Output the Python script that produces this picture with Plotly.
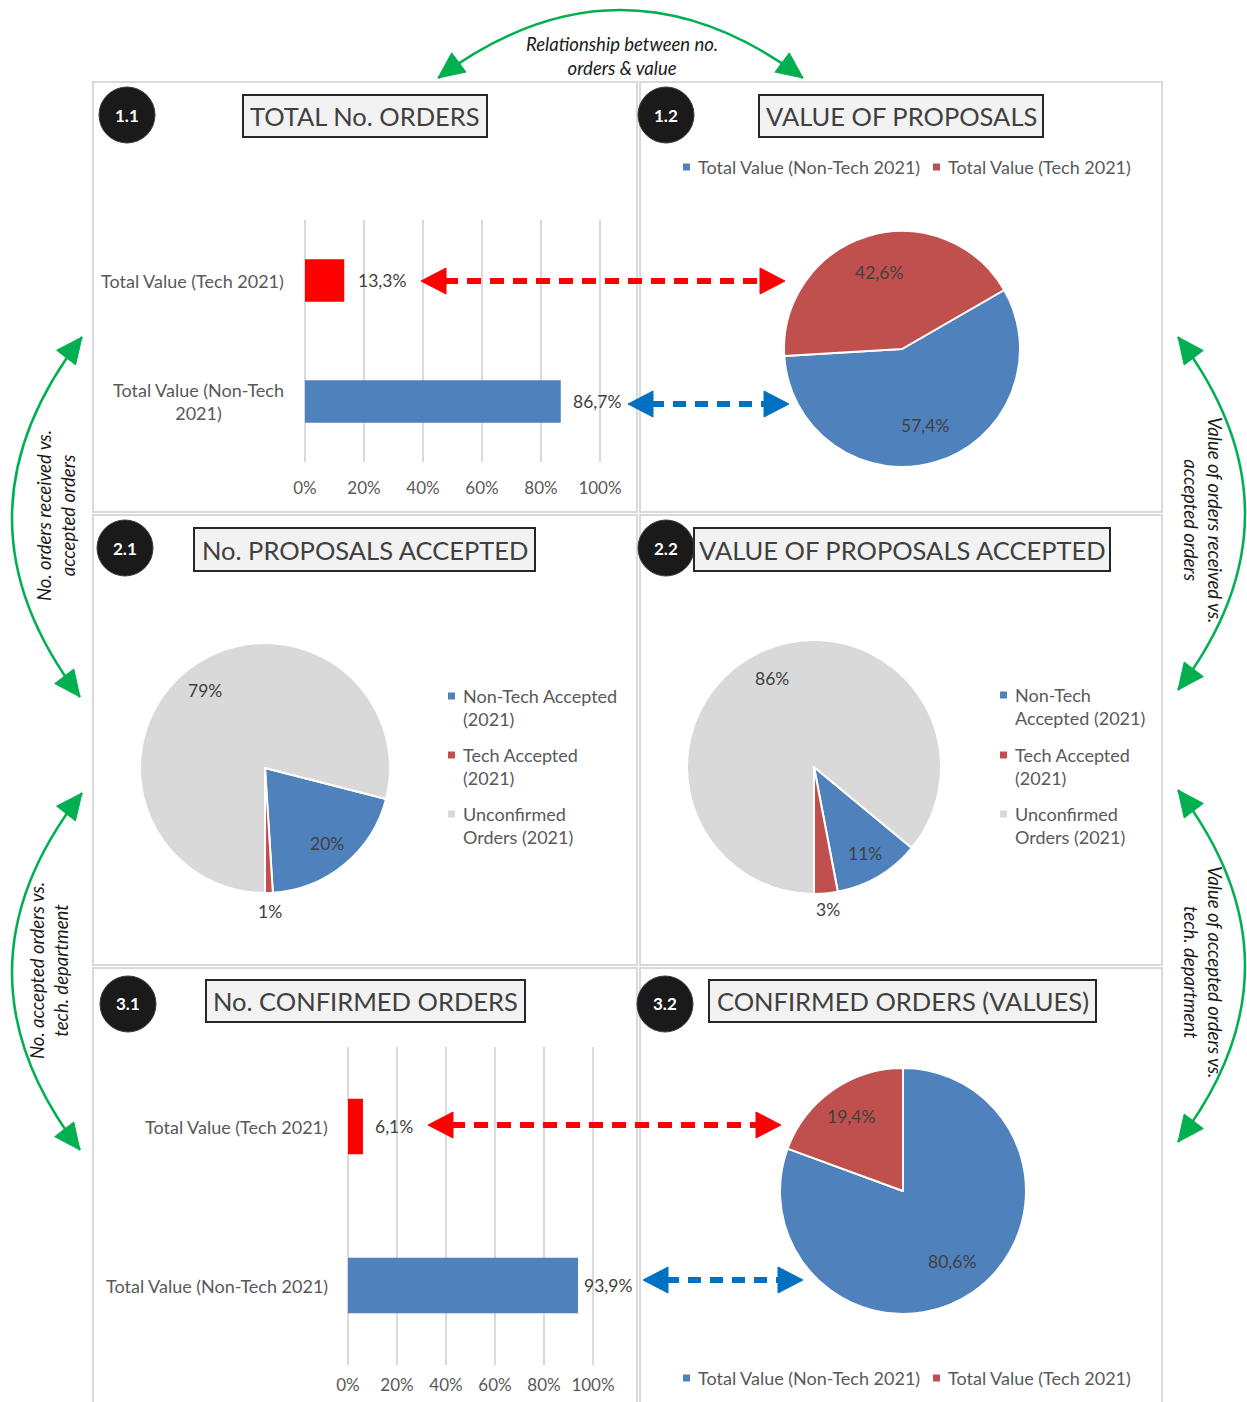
import numpy as np
import plotly.graph_objects as go

W, H = 1247, 1402
FONT = "Lato"

# ---------------- data ----------------
bar_categories = ["Total Value (Non-Tech 2021)", "Total Value (Tech 2021)"]
orders_total_pct = [86.7, 13.3]          # 1.1 total no. of orders
orders_confirmed_pct = [93.9, 6.1]       # 3.1 no. of confirmed orders
pct_ticks = [0, 20, 40, 60, 80, 100]

value_labels = ["Total Value (Non-Tech 2021)", "Total Value (Tech 2021)"]
proposal_value_pct = [57.4, 42.6]        # 1.2 value of proposals
confirmed_value_pct = [80.6, 19.4]       # 3.2 confirmed orders (values)

accepted_labels = ["Non-Tech Accepted (2021)", "Tech Accepted (2021)", "Unconfirmed Orders (2021)"]
accepted_count_pct = [20, 1, 79]         # 2.1 no. proposals accepted
accepted_value_pct = [11, 3, 86]         # 2.2 value of proposals accepted

BLUE = "#4f81bd"
RED = "#c0504d"
BAR_RED = "#ff0000"
GREY = "#d9d9d9"
GREEN = "#00b050"
ARROW_BLUE = "#0070c0"
TXT = "#595959"
DARK = "#404040"


def X(px):
    return px / W


def Y(py):
    return 1 - py / H


def pct1(v):
    return f"{v:.1f}%".replace(".", ",")


def pct0(v):
    return f"{v:.0f}%"


shapes = []
annotations = []

# ---------------- panel frames ----------------
for x0, y0, x1, y1 in [(93, 82, 637, 512), (640, 82, 1162, 512),
                       (93, 515, 637, 965), (640, 515, 1162, 965),
                       (93, 968, 637, 1410), (640, 968, 1162, 1410)]:
    shapes.append(dict(type="rect", xref="paper", yref="paper", layer="below",
                       x0=X(x0), x1=X(x1), y0=Y(y1), y1=Y(y0),
                       line=dict(color=GREY, width=2), fillcolor="rgba(0,0,0,0)"))

fig = go.Figure()

# ---------------- 1.1 and 3.1 bar charts ----------------
PAD = 0.5  # small range padding so the 0% and 100% gridlines are drawn
bar_panels = [
    dict(values=orders_total_pct, xa="x", ya="y", xd=(305, 600), yd=(220, 462),
         label_x=286, shifts=[10, 12], standoff=14,
         cat_text=["Total Value (Non-Tech<br>2021)", "Total Value (Tech 2021)"]),
    dict(values=orders_confirmed_pct, xa="x2", ya="y2", xd=(348, 593), yd=(1047, 1365),
         label_x=330, shifts=[4, 10], standoff=8,
         cat_text=["Total Value (Non-Tech 2021)", "Total Value (Tech 2021)"]),
]
axes = {}
for i, p in enumerate(bar_panels):
    fig.add_trace(go.Bar(y=bar_categories, x=p["values"], orientation="h",
                         marker=dict(color=[BLUE, BAR_RED], line=dict(width=0)),
                         width=0.35, xaxis=p["xa"], yaxis=p["ya"],
                         showlegend=False, hoverinfo="skip"))
    sfx = "" if i == 0 else str(i + 1)
    x0, x100 = p["xd"]
    unit = (x100 - x0) / 100.0
    axes["xaxis" + sfx] = dict(domain=[X(x0 - PAD * unit), X(x100 + PAD * unit)],
                               range=[-PAD, 100 + PAD],
                               tickvals=pct_ticks, ticktext=[f"{t}%" for t in pct_ticks],
                               showgrid=True, gridcolor=GREY, gridwidth=1.6,
                               zeroline=False, showline=False, ticks="",
                               tickfont=dict(family=FONT, size=17, color=TXT),
                               ticklabelstandoff=p["standoff"], automargin=False,
                               anchor=p["ya"], fixedrange=True)
    axes["yaxis" + sfx] = dict(domain=[Y(p["yd"][1]), Y(p["yd"][0])], type="category",
                               categoryorder="array", categoryarray=bar_categories,
                               showticklabels=False, showgrid=False, zeroline=False,
                               showline=False, ticks="", anchor=p["xa"],
                               automargin=False, fixedrange=True)
    for cat, txt, val, sh in zip(bar_categories, p["cat_text"], p["values"], p["shifts"]):
        annotations.append(dict(xref="paper", yref=p["ya"], x=X(p["label_x"]), y=cat,
                                text=txt, showarrow=False, xanchor="right", align="center",
                                font=dict(family=FONT, size=18, color=TXT)))
        annotations.append(dict(xref=p["xa"], yref=p["ya"], x=val, y=cat, text=pct1(val),
                                showarrow=False, xanchor="left", xshift=sh,
                                font=dict(family=FONT, size=17.5, color=DARK)))


# ---------------- pies ----------------
def add_pie(values, labels, colors, rotation, cx, cy, r, texts, radial):
    fig.add_trace(go.Pie(values=values, labels=labels, sort=False, direction="clockwise",
                         rotation=rotation,
                         marker=dict(colors=colors, line=dict(color="white", width=2)),
                         domain=dict(x=[X(cx - r), X(cx + r)], y=[Y(cy + r), Y(cy - r)]),
                         textinfo="none", showlegend=False, hoverinfo="skip"))
    # value labels sit on each slice's mid-angle
    total = float(sum(values))
    cum = 0.0
    for v, t, f in zip(values, texts, radial):
        ang = np.radians(rotation + (cum + v / 2) / total * 360)
        tx, ty = cx + f * r * np.sin(ang), cy - f * r * np.cos(ang)
        annotations.append(dict(xref="paper", yref="paper", x=X(tx), y=Y(ty), text=t,
                                showarrow=False, xanchor="center", yanchor="middle",
                                font=dict(family=FONT, size=17.5, color=DARK)))
        cum += v


add_pie(proposal_value_pct, value_labels, [BLUE, RED], 60, 902, 349, 118,
        [pct1(v) for v in proposal_value_pct], [0.68, 0.68])
add_pie(accepted_count_pct, accepted_labels, [BLUE, RED, GREY], 104.4, 265, 768, 125,
        [pct0(v) for v in accepted_count_pct], [0.78, 1.15, 0.78])
add_pie(accepted_value_pct, accepted_labels, [BLUE, RED, GREY], 129.6, 814, 767, 127,
        [pct0(v) for v in accepted_value_pct], [0.79, 1.13, 0.77])
add_pie(confirmed_value_pct, value_labels, [BLUE, RED], 0, 903, 1191, 123,
        [pct1(v) for v in confirmed_value_pct], [0.70, 0.74])


# ---------------- legends ----------------
def legend_entry(xs, y, color, lines, gap=13, dy=23):
    shapes.append(dict(type="rect", xref="paper", yref="paper",
                       x0=X(xs), x1=X(xs + 7), y0=Y(y + 3.5), y1=Y(y - 3.5),
                       fillcolor=color, line=dict(width=0)))
    for k, ln in enumerate(lines):
        annotations.append(dict(xref="paper", yref="paper", x=X(xs + gap), y=Y(y + k * dy),
                                text=ln, showarrow=False, xanchor="left", yanchor="middle",
                                font=dict(family=FONT, size=18, color=TXT)))


for y in (167, 1378):
    legend_entry(683, y, BLUE, [value_labels[0]])
    legend_entry(933, y, RED, [value_labels[1]])

legend_entry(448, 696, BLUE, ["Non-Tech Accepted", "(2021)"])
legend_entry(448, 755, RED, ["Tech Accepted", "(2021)"])
legend_entry(448, 814, GREY, ["Unconfirmed", "Orders (2021)"])
legend_entry(1000, 695, BLUE, ["Non-Tech", "Accepted (2021)"])
legend_entry(1000, 755, RED, ["Tech Accepted", "(2021)"])
legend_entry(1000, 814, GREY, ["Unconfirmed", "Orders (2021)"])

# ---------------- titles and badges ----------------
titles = [("TOTAL No. ORDERS", 243, 487, 95, 137),
          ("VALUE OF PROPOSALS", 759, 1043, 95, 137),
          ("No. PROPOSALS ACCEPTED", 194, 535, 528, 571),
          ("VALUE OF PROPOSALS ACCEPTED", 694, 1110, 528, 571),
          ("No. CONFIRMED ORDERS", 206, 525, 980, 1022),
          ("CONFIRMED ORDERS (VALUES)", 709, 1096, 980, 1022)]
for txt, x0, x1, y0, y1 in titles:
    shapes.append(dict(type="rect", xref="paper", yref="paper",
                       x0=X(x0), x1=X(x1), y0=Y(y1), y1=Y(y0),
                       fillcolor="#f2f2f2", line=dict(color="#262626", width=2)))
    annotations.append(dict(xref="paper", yref="paper", x=X((x0 + x1) / 2), y=Y((y0 + y1) / 2),
                            text=txt, showarrow=False, xanchor="center", yanchor="middle",
                            font=dict(family=FONT, size=25.5, color=DARK)))

badges = [("1.1", 127, 115), ("1.2", 666, 115), ("2.1", 125, 548),
          ("2.2", 666, 548), ("3.1", 128, 1004), ("3.2", 665, 1004)]
for txt, cx, cy in badges:
    r = 28
    shapes.append(dict(type="circle", xref="paper", yref="paper",
                       x0=X(cx - r), x1=X(cx + r), y0=Y(cy + r), y1=Y(cy - r),
                       fillcolor="#1a1a1a", line=dict(color="#3a3a3a", width=1)))
    annotations.append(dict(xref="paper", yref="paper", x=X(cx), y=Y(cy), text=f"<b>{txt}</b>",
                            showarrow=False, xanchor="center", yanchor="middle",
                            font=dict(family=FONT, size=17, color="white")))


# ---------------- arrows ----------------
def head(tip, toward, color, length, half):
    tip = np.array(tip, float)
    d = tip - np.array(toward, float)
    d /= np.linalg.norm(d)
    n = np.array([-d[1], d[0]])
    base = tip - d * length
    a, b = base + n * half, base - n * half
    shapes.append(dict(type="path", xref="paper", yref="paper",
                       path=f"M {X(tip[0])},{Y(tip[1])} L {X(a[0])},{Y(a[1])} "
                            f"L {X(b[0])},{Y(b[1])} Z",
                       fillcolor=color, line=dict(color=color, width=1)))


def dashed_arrow(xl, xr, y, color, dash):
    hl, hw = 25, 13
    shapes.append(dict(type="line", xref="paper", yref="paper",
                       x0=X(xl + hl - 2), x1=X(xr - hl + 2), y0=Y(y), y1=Y(y),
                       line=dict(color=color, width=6, dash=dash)))
    head((xl, y), (xr, y), color, hl, hw)
    head((xr, y), (xl, y), color, hl, hw)


dashed_arrow(421, 785, 281, BAR_RED, "14px,9px")
dashed_arrow(628, 789, 404, ARROW_BLUE, "13px,9px")
dashed_arrow(428, 781, 1125, BAR_RED, "14px,9px")
dashed_arrow(643, 803, 1280, ARROW_BLUE, "13px,9px")


def curved_arrow(p0, p1, ctrl):
    shapes.append(dict(type="path", xref="paper", yref="paper",
                       path=f"M {X(p0[0])},{Y(p0[1])} Q {X(ctrl[0])},{Y(ctrl[1])} "
                            f"{X(p1[0])},{Y(p1[1])}",
                       line=dict(color=GREEN, width=2.5)))
    head(p0, ctrl, GREEN, 26, 12)
    head(p1, ctrl, GREEN, 26, 12)


curved_arrow((438, 78), (803, 78), (620, -58))
curved_arrow((82, 337), (80, 697), (-57, 517))
curved_arrow((82, 793), (80, 1150), (-57, 971))
curved_arrow((1178, 337), (1178, 690), (1312, 514))
curved_arrow((1178, 790), (1178, 1142), (1312, 966))

captions = [("Relationship between no.<br>orders & value", 622, 56, 0),
            ("No. orders received vs.<br>accepted orders", 56, 516, -90),
            ("No. accepted orders vs.<br>tech. department", 49, 971, -90),
            ("Value of orders received vs.<br>accepted orders", 1203, 520, 90),
            ("Value of accepted orders vs.<br>tech. department", 1203, 972, 90)]
for txt, cx, cy, ang in captions:
    annotations.append(dict(xref="paper", yref="paper", x=X(cx), y=Y(cy), text=f"<i>{txt}</i>",
                            showarrow=False, xanchor="center", yanchor="middle",
                            textangle=ang, align="center",
                            font=dict(family=FONT, size=18.5, color="#1a1a1a")))

fig.update_layout(width=W, height=H, autosize=False,
                  margin=dict(l=0, r=0, t=0, b=0, pad=0, autoexpand=False),
                  paper_bgcolor="white", plot_bgcolor="white",
                  font=dict(family=FONT, color=TXT), showlegend=False,
                  shapes=shapes, annotations=annotations, **axes)

fig.write_html("out.html")
